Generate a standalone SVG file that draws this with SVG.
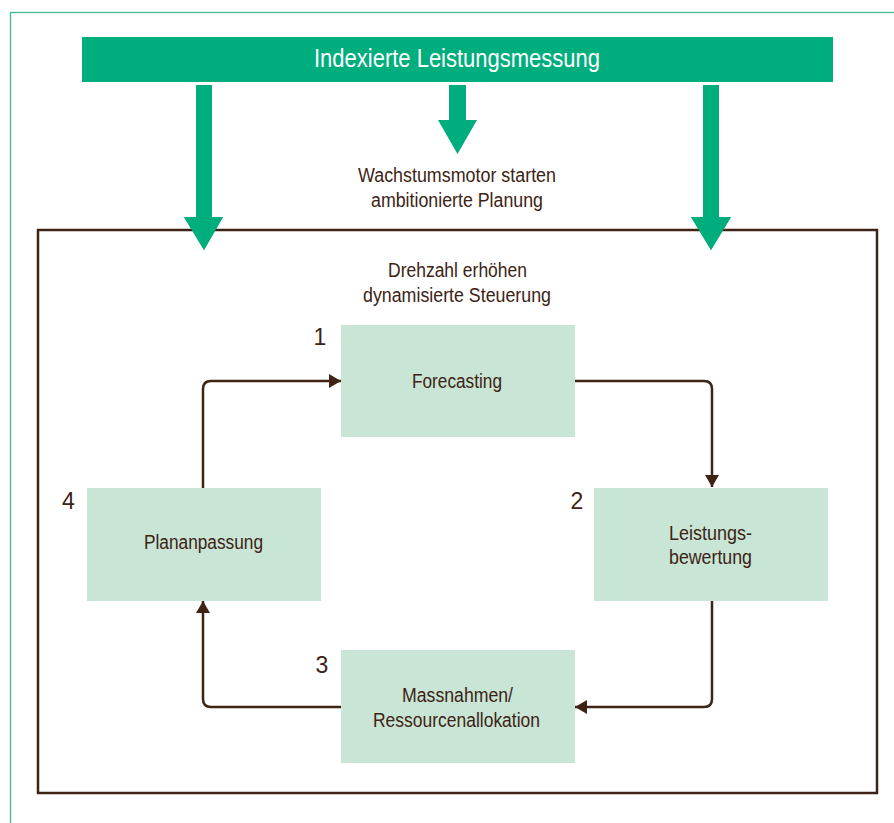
<svg xmlns="http://www.w3.org/2000/svg" width="894" height="823" viewBox="0 0 894 823">
  <style>
    .lbl { font-family: "Liberation Sans", Arial, sans-serif; font-size: 20px; fill: #3d2314; text-anchor: middle; }
    .num { font-family: "Liberation Sans", Arial, sans-serif; font-size: 23px; fill: #3d2314; text-anchor: middle; }
    .node { fill: #c8e5d6; }
    .conn { fill: none; stroke: #3f2416; stroke-width: 2.5; marker-end: url(#ah); }
    .garrow { fill: #00ad7c; }
  </style>
  <defs>
    <marker id="ah" markerUnits="userSpaceOnUse" markerWidth="14" markerHeight="14" viewBox="0 0 12 14" refX="12" refY="7" orient="auto">
      <path d="M0,0 L12,7 L0,14 Z" fill="#3f2416"/>
    </marker>
  </defs>
  <rect width="894" height="823" fill="#ffffff"/>
  <rect x="10.5" y="12.5" width="900" height="900" fill="none" stroke="#3dbd8c" stroke-width="1.3"/>

  <g id="banner">
    <rect x="82" y="37" width="751" height="45" fill="#00ad7c"/>
    <text x="457" y="67" font-family="Liberation Sans, Arial, sans-serif" font-size="26" fill="#ffffff" text-anchor="middle" textLength="286" lengthAdjust="spacingAndGlyphs">Indexierte Leistungsmessung</text>
  </g>

  <g id="green-arrows">
    <polygon class="garrow" points="196,85 212,85 212,217 223,217 204,250 184,217 196,217"/>
    <polygon class="garrow" points="449,85 466,85 466,120 477,120 457.5,154 438,120 449,120"/>
    <polygon class="garrow" points="703,85 719,85 719,217 731,217 711,250 691,217 703,217"/>
  </g>

  <g id="top-label">
    <text class="lbl" x="457" y="182" textLength="198" lengthAdjust="spacingAndGlyphs">Wachstumsmotor starten</text>
    <text class="lbl" x="457" y="207" textLength="172" lengthAdjust="spacingAndGlyphs">ambitionierte Planung</text>
  </g>

  <g id="frame">
    <rect x="38" y="230" width="839" height="563" fill="none" stroke="#3f2416" stroke-width="2.5"/>
  </g>
  <g id="arrow-tips">
    <polygon class="garrow" points="223,217 204,250 184,217"/>
    <polygon class="garrow" points="731,217 711,250 691,217"/>
  </g>

  <g id="inner-label">
    <text class="lbl" x="457.5" y="277" textLength="139" lengthAdjust="spacingAndGlyphs">Drehzahl erhöhen</text>
    <text class="lbl" x="457" y="302" textLength="188" lengthAdjust="spacingAndGlyphs">dynamisierte Steuerung</text>
  </g>

  <g id="connectors">
    <path class="conn" d="M575,381 H704 Q712,381 712,389 V487"/>
    <path class="conn" d="M712,601 V699 Q712,707 704,707 H575"/>
    <path class="conn" d="M341,707 H211 Q203,707 203,699 V601"/>
    <path class="conn" d="M203,488 V389 Q203,381 211,381 H341"/>
  </g>

  <g id="node-forecasting">
    <rect class="node" x="341" y="325" width="234" height="112"/>
    <text class="num" x="320" y="345">1</text>
    <text class="lbl" x="457" y="388" textLength="90" lengthAdjust="spacingAndGlyphs">Forecasting</text>
  </g>

  <g id="node-leistungsbewertung">
    <rect class="node" x="594" y="488" width="234" height="113"/>
    <text class="num" x="577" y="509">2</text>
    <text class="lbl" x="710.5" y="540" textLength="83" lengthAdjust="spacingAndGlyphs">Leistungs-</text>
    <text class="lbl" x="710.5" y="564" textLength="83" lengthAdjust="spacingAndGlyphs">bewertung</text>
  </g>

  <g id="node-massnahmen">
    <rect class="node" x="341" y="650" width="234" height="113"/>
    <text class="num" x="322" y="673">3</text>
    <text class="lbl" x="457.5" y="702" textLength="111" lengthAdjust="spacingAndGlyphs">Massnahmen/</text>
    <text class="lbl" x="456.5" y="727" textLength="167" lengthAdjust="spacingAndGlyphs">Ressourcenallokation</text>
  </g>

  <g id="node-plananpassung">
    <rect class="node" x="87" y="488" width="234" height="113"/>
    <text class="num" x="68.5" y="509">4</text>
    <text class="lbl" x="203.5" y="549" textLength="119" lengthAdjust="spacingAndGlyphs">Plananpassung</text>
  </g>
</svg>
